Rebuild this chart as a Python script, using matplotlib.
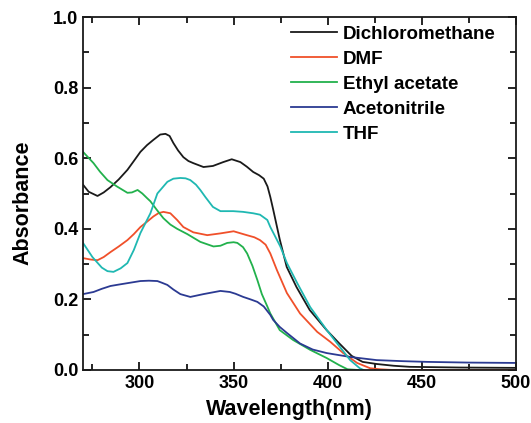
import matplotlib
matplotlib.use('Agg')
import matplotlib.pyplot as plt
from matplotlib.ticker import MultipleLocator

plt.rcParams['font.family'] = ['Liberation Sans', 'DejaVu Sans']
plt.rcParams['font.weight'] = 'bold'

# Dichloromethane
wl_dcm = [270, 273, 277.7, 281, 284.6, 289, 293.6, 297, 300.5, 304, 307.4, 311, 313.8, 316, 318, 320.5, 323.3, 326, 328.6,
          334, 339, 344.5, 349, 353.6, 357, 360.4, 363.5, 366, 368, 369.5, 371, 374.5, 378.2, 383.4, 390.4, 399.4, 406,
          412.7, 418.5, 426, 435, 443.5, 470, 500]
a_dcm = [0.525, 0.505, 0.493, 0.503, 0.518, 0.54, 0.567, 0.592, 0.618, 0.637, 0.652, 0.667, 0.669, 0.663, 0.643, 0.622, 0.603,
         0.592, 0.586, 0.575, 0.578, 0.589, 0.597, 0.589, 0.576, 0.561, 0.552, 0.542, 0.52, 0.49, 0.455, 0.37, 0.292, 0.235,
         0.17, 0.113, 0.076, 0.04, 0.023, 0.017, 0.012, 0.009, 0.007, 0.006]

# DMF
wl_dmf = [270, 274, 277.7, 281, 284.6, 289, 293.6, 297, 300.5, 304, 307.4, 310, 312.7, 316.4, 320, 323.3, 328.6, 336, 343,
          350, 357, 361, 364, 367, 369.5, 373, 378.3, 385.3, 394.4, 401.3, 408.2, 415.6, 422.5, 428, 434.7, 460, 500]
a_dmf = [0.317, 0.313, 0.311, 0.32, 0.334, 0.35, 0.368, 0.385, 0.405, 0.42, 0.435, 0.444, 0.448, 0.444, 0.425, 0.405, 0.39,
         0.382, 0.387, 0.393, 0.382, 0.376, 0.368, 0.355, 0.33, 0.283, 0.218, 0.16, 0.108, 0.08, 0.048, 0.02, 0.005, 0.002,
         0.0, 0.0, 0.0]

# Ethyl acetate
wl_ea = [270, 275.6, 279, 283, 288, 293.6, 296, 299, 301.5, 304, 305.8, 309, 312.7, 316.4, 320, 325.4, 332.3, 339.3, 343,
         346.6, 350, 352, 355, 357.2, 360, 362.6, 365, 367.9, 369.5, 374.5, 381.6, 390.7, 399.4, 406, 410.5, 416]
a_ea = [0.618, 0.586, 0.562, 0.538, 0.52, 0.502, 0.503, 0.51, 0.5, 0.487, 0.478, 0.455, 0.43, 0.412, 0.4, 0.385, 0.363, 0.35,
        0.352, 0.36, 0.362, 0.36, 0.348, 0.33, 0.295, 0.255, 0.215, 0.18, 0.16, 0.113, 0.085, 0.057, 0.034, 0.014, 0.002, 0.0]

# Acetonitrile
wl_acn = [270, 275.6, 280, 284.6, 289, 293.6, 300.5, 305, 309.5, 312, 314.8, 318, 321.7, 327, 334, 343, 348, 351, 355.1,
          359, 362.6, 366, 369.5, 371, 374.5, 378.3, 385.3, 392, 399.4, 411.8, 426, 440, 452.7, 475, 500]
a_acn = [0.215, 0.221, 0.23, 0.238, 0.242, 0.246, 0.252, 0.253, 0.252, 0.247, 0.241, 0.228, 0.215, 0.207, 0.215, 0.224, 0.221,
         0.216, 0.207, 0.2, 0.193, 0.18, 0.156, 0.142, 0.122, 0.105, 0.075, 0.058, 0.048, 0.037, 0.028, 0.025, 0.023, 0.021,
         0.02]

# THF
wl_thf = [270, 275, 280, 283, 286.2, 290, 293.6, 297, 300.5, 304, 305.8, 309.5, 314.8, 318, 321.7, 324.5, 327, 330, 332.3,
          335, 339, 343, 349.8, 355, 360.4, 364, 367.9, 369.5, 374.8, 378.3, 383.8, 390.7, 399.5, 406.5, 411.9, 417, 419]
a_thf = [0.36, 0.32, 0.29, 0.28, 0.278, 0.288, 0.303, 0.34, 0.388, 0.425, 0.444, 0.5, 0.533, 0.542, 0.544, 0.543, 0.538,
         0.525, 0.51, 0.49, 0.462, 0.45, 0.45, 0.448, 0.444, 0.44, 0.425, 0.405, 0.35, 0.303, 0.246, 0.178, 0.113, 0.065,
         0.028, 0.005, 0.0]

fig = plt.figure(figsize=(5.31, 4.23), dpi=100)
ax = fig.add_axes([0.1563, 0.1253, 0.8155, 0.8345])

ax.plot(wl_dcm, a_dcm, color='#1a1a1a', lw=1.3, label='Dichloromethane')
ax.plot(wl_dmf, a_dmf, color='#f0502a', lw=1.3, label='DMF')
ax.plot(wl_ea, a_ea, color='#22b14c', lw=1.3, label='Ethyl acetate')
ax.plot(wl_acn, a_acn, color='#2b3a92', lw=1.3, label='Acetonitrile')
ax.plot(wl_thf, a_thf, color='#1fb8b2', lw=1.3, label='THF')

ax.set_xlim(270, 500)
ax.set_ylim(0, 1.0)
ax.xaxis.set_major_locator(MultipleLocator(50))
ax.xaxis.set_minor_locator(MultipleLocator(25))
ax.yaxis.set_major_locator(MultipleLocator(0.2))
ax.yaxis.set_minor_locator(MultipleLocator(0.1))
ax.tick_params(which='both', direction='in', top=True, right=True, labelsize=13, width=1.2)
ax.tick_params(which='major', length=6)
ax.tick_params(which='minor', length=4)
for s in ax.spines.values():
    s.set_linewidth(1.3)
    s.set_color('#1a1a1a')

ax.set_xlabel('Wavelength(nm)', fontsize=15.5, fontweight='bold')
ax.set_ylabel('Absorbance', fontsize=15.5, fontweight='bold')
ax.xaxis.set_label_coords(0.476, -0.083)
ax.yaxis.set_label_coords(-0.115, 0.473)

ax.legend(loc='upper left', frameon=False, fontsize=13.5, handlelength=2.45, handletextpad=0.32,
          labelspacing=0.42, borderaxespad=0, borderpad=0, bbox_to_anchor=(0.48, 0.975))

fig.savefig('out.png', dpi=100)
